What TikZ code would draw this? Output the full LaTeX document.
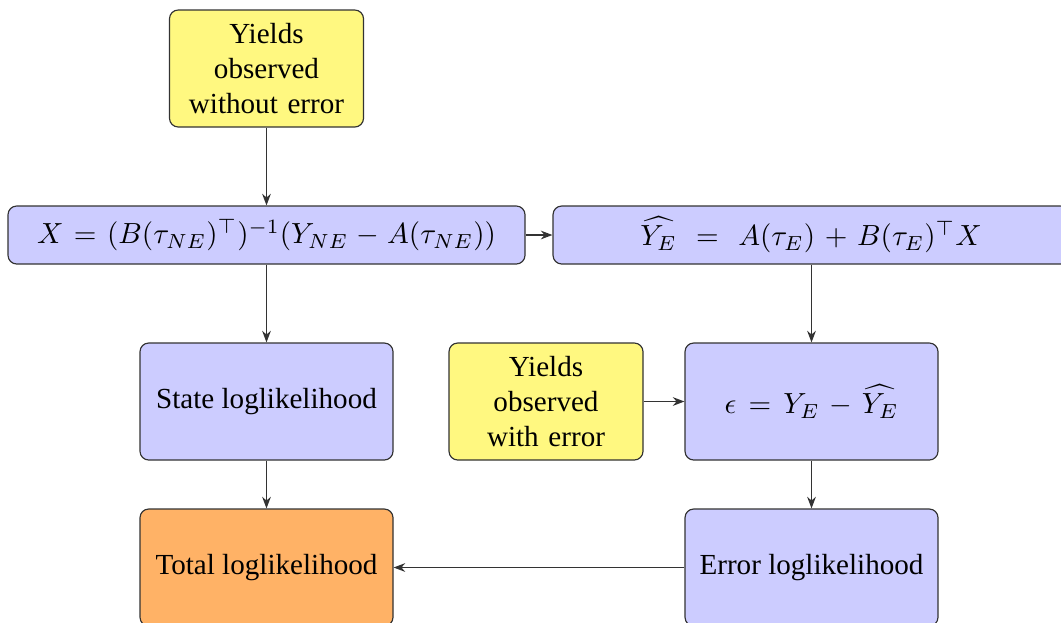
\documentclass[tikz,border=0pt]{standalone}
\usepackage{fontspec}
\setmainfont{Liberation Serif}
\usetikzlibrary{arrows.meta}
\begin{document}
\begin{tikzpicture}[x=0.3436pt,y=-0.3436pt,
  box/.style={draw=black!80, rounded corners=3pt, align=center, inner sep=2pt, font=\fontsize{10}{12}\selectfont},
  bluebox/.style={box, fill=blue!20},
  yellowbox/.style={box, fill=yellow!50},
  orangebox/.style={box, fill=orange!60},
  tall/.style={minimum height=117*0.3436pt},
  wide/.style={minimum width=253*0.3436pt},
  narrow/.style={minimum width=194*0.3436pt, text width=60pt},
  flat/.style={minimum height=58*0.3436pt},
  widemath/.style={execute at begin node={\thickmuskip=7.5mu\medmuskip=6mu}},
  midmath/.style={execute at begin node={\thickmuskip=6.5mu\medmuskip=5mu}},
  arr/.style={-{Stealth[length=4pt,width=3pt]}, draw=black!80}
]
\useasboundingbox (0,0) rectangle (1061,622);
\node[yellowbox, narrow, tall] (obsne) at (266.5,68.5) {Yields observed without error};
\node[bluebox, flat, midmath, minimum width=517*0.3436pt] (xstate) at (266.5,235) {$X = (B(\tau_{NE})^\top)^{-1}(Y_{NE} - A(\tau_{NE}))$};
\node[bluebox, flat, widemath, minimum width=516*0.3436pt] (yhat) at (811,235) {$\widehat{Y_E}\ =\ A(\tau_E) + B(\tau_E)^\top X$};
\node[bluebox, wide, tall] (statell) at (266.5,401.5) {State loglikelihood};
\node[yellowbox, narrow, tall] (obse) at (546,401.5) {Yields observed with error};
\node[bluebox, wide, tall, widemath] (eps) at (811.5,401.5) {$\epsilon = Y_E - \widehat{Y_E}$};
\node[orangebox, wide, tall] (total) at (266.5,567.5) {Total loglikelihood};
\node[bluebox, wide, tall] (errll) at (811.5,567.5) {Error loglikelihood};
\draw[arr] (obsne) -- (xstate);
\draw[arr] (xstate) -- (yhat);
\draw[arr] (xstate) -- (statell);
\draw[arr] (statell) -- (total);
\draw[arr] (yhat.south -| eps.north) -- (eps);
\draw[arr] (obse) -- (eps);
\draw[arr] (eps) -- (errll);
\draw[arr] (errll) -- (total);
\end{tikzpicture}
\end{document}
